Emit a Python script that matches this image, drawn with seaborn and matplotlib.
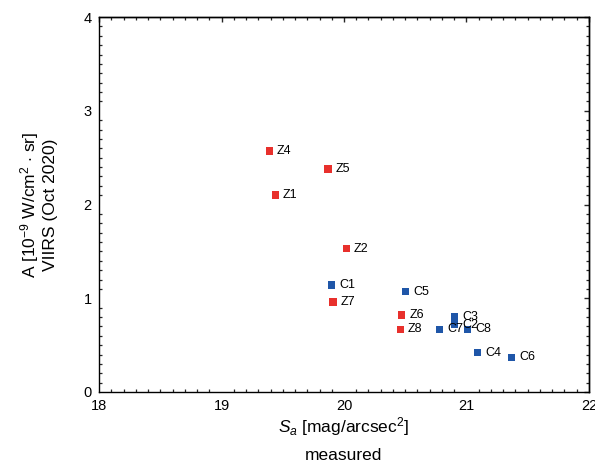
import matplotlib
matplotlib.use("Agg")
import matplotlib.pyplot as plt
from matplotlib.ticker import MultipleLocator, NullFormatter
import seaborn as sns
import pandas as pd

# Site labels, measured sky brightness and VIIRS radiance
labels = ["Z1", "Z2", "Z4", "Z5", "Z6", "Z7", "Z8",
          "C1", "C2", "C3", "C4", "C5", "C6", "C7", "C8"]
sky_brightness = [19.44, 20.02, 19.39, 19.87, 20.47, 19.91, 20.46,
                  19.90, 20.90, 20.90, 21.09, 20.50, 21.37, 20.78, 21.01]
radiance = [2.10, 1.53, 2.57, 2.38, 0.82, 0.96, 0.67,
            1.14, 0.72, 0.80, 0.42, 1.07, 0.37, 0.67, 0.67]
group = ["Z"] * 7 + ["C"] * 8

df = pd.DataFrame({"label": labels, "Sa": sky_brightness,
                   "A": radiance, "group": group})

sns.set_theme(style="white")
plt.rcParams["font.family"] = ["Liberation Sans", "DejaVu Sans"]
plt.rcParams["mathtext.fontset"] = "custom"
plt.rcParams["mathtext.rm"] = "Liberation Sans"
plt.rcParams["mathtext.it"] = "Liberation Sans:italic"
plt.rcParams["text.color"] = "black"
plt.rcParams["axes.labelcolor"] = "black"

fig = plt.figure(figsize=(5.95, 4.66), dpi=100)
ax = fig.add_axes([0.1664, 0.1588, 0.8235, 0.8047])

palette = {"Z": "#e8302c", "C": "#1f56a8"}
sns.scatterplot(data=df, x="Sa", y="A", hue="group", palette=palette,
                marker="s", s=28, edgecolor="none", legend=False, ax=ax)

for _, r in df.iterrows():
    ax.annotate(r["label"], (r["Sa"], r["A"]), xytext=(5.5, 0),
                textcoords="offset points", va="center", ha="left",
                fontsize=9, color="black")

ax.set_xlim(18, 22)
ax.set_ylim(0, 4)
for axis in (ax.xaxis, ax.yaxis):
    axis.set_major_locator(MultipleLocator(1))
    axis.set_minor_locator(MultipleLocator(0.1))

for s in ax.spines.values():
    s.set_color("black")
    s.set_linewidth(1.0)

ax.tick_params(which="major", direction="inout", length=6.5, width=1,
               labelsize=10.5, colors="black", pad=2)
ax.tick_params(which="minor", direction="in", length=2.5, width=0.9,
               bottom=True, left=True)

# mirrored inward ticks on the top and right edges
top = ax.secondary_xaxis("top")
right = ax.secondary_yaxis("right")
for sec, axis in ((top, top.xaxis), (right, right.yaxis)):
    axis.set_major_locator(MultipleLocator(1))
    axis.set_minor_locator(MultipleLocator(0.1))
    axis.set_major_formatter(NullFormatter())
    sec.tick_params(which="major", direction="in", length=3.5, width=1)
    sec.tick_params(which="minor", direction="in", length=2.5, width=0.9)
    for s in sec.spines.values():
        s.set_linewidth(1.0)
        s.set_color("black")

ax.set_xlabel("$S_a$ [mag/arcsec$^2$]", fontsize=12.5, labelpad=1)
fig.text(0.578, 1 - 456 / 466, "measured", fontsize=12.5,
         ha="center", va="center")
ax.set_ylabel("A [10$^{-9}$ W/cm$^2$ $\\cdot$ sr]\nVIIRS (Oct 2020)",
              fontsize=12.5, labelpad=18)

fig.savefig("out.png", dpi=100)
